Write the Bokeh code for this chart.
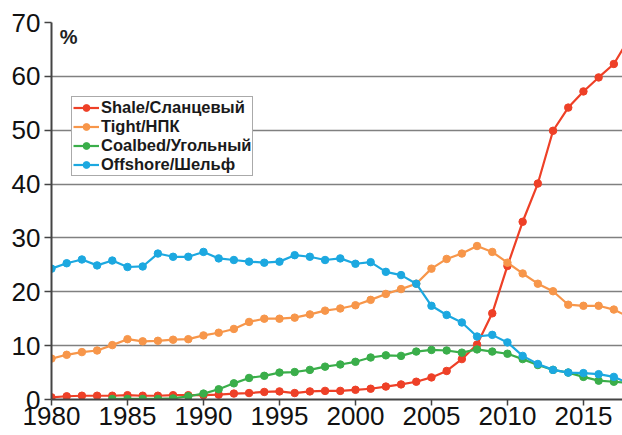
from bokeh.plotting import figure
from bokeh.models import Range1d, FixedTicker, Label, Legend, LegendItem
from bokeh.embed import file_html
from bokeh.resources import INLINE

years = list(range(1980, 2019))
coal_years = list(range(1984, 2019))

shale = [0.4, 0.6, 0.7, 0.7, 0.7, 0.8, 0.7, 0.7, 0.8, 0.8,
         0.8, 0.9, 1.1, 1.2, 1.4, 1.5, 1.2, 1.5, 1.6, 1.6,
         1.8, 2.0, 2.4, 2.8, 3.3, 4.1, 5.3, 7.5, 10.2, 16.0,
         24.8, 33.0, 40.1, 49.9, 54.2, 57.2, 59.8, 62.3, 67.0]
tight = [7.6, 8.3, 8.8, 9.1, 10.1, 11.2, 10.8, 10.9, 11.1, 11.2,
         11.9, 12.4, 13.1, 14.4, 15.0, 15.0, 15.2, 15.8, 16.5, 16.9,
         17.5, 18.5, 19.6, 20.5, 21.5, 24.3, 26.1, 27.1, 28.5, 27.4,
         25.4, 23.4, 21.5, 20.1, 17.6, 17.4, 17.4, 16.7, 15.3]
coalbed = [0.1, 0.1, 0.1, 0.1, 0.2, 0.6,
           1.1, 1.9, 3.0, 4.0, 4.4, 5.0, 5.1, 5.5, 6.1, 6.5,
           7.0, 7.8, 8.2, 8.1, 8.9, 9.2, 9.1, 8.7, 9.3, 8.9,
           8.5, 7.5, 6.4, 5.5, 5.0, 4.2, 3.5, 3.3, 3.1]
offshore = [24.3, 25.3, 26.0, 24.9, 25.8, 24.6, 24.7, 27.1, 26.5, 26.5,
            27.4, 26.2, 25.9, 25.6, 25.4, 25.6, 26.8, 26.5, 25.9, 26.2,
            25.2, 25.5, 23.7, 23.1, 21.5, 17.4, 15.7, 14.3, 11.7, 12.0,
            10.6, 8.1, 6.6, 5.5, 5.0, 4.9, 4.7, 4.2, 3.0]

labels = ["Shale/Сланцевый", "Tight/НПК", "Coalbed/Угольный", "Offshore/Шельф"]
colors = ["#ee4027", "#f7964a", "#3aae4a", "#1ca8e0"]
x_ticks = [1980, 1985, 1990, 1995, 2000, 2005, 2010, 2015]
y_ticks = [0, 10, 20, 30, 40, 50, 60, 70]

FONT = "Liberation Sans"

p = figure(width=622, height=435, output_backend="svg", toolbar_location=None,
           x_range=Range1d(1980, 2017.57), y_range=Range1d(0, 70))
p.min_border_left = 51
p.min_border_right = 0
p.min_border_top = 22
p.min_border_bottom = 36
p.outline_line_color = None
p.background_fill_color = "white"
p.border_fill_color = "white"

p.xgrid.grid_line_color = None
p.ygrid.grid_line_color = "#808080"
p.ygrid.grid_line_width = 1.6

p.xaxis.ticker = FixedTicker(ticks=x_ticks)
p.yaxis.ticker = FixedTicker(ticks=y_ticks)
for ax in (p.xaxis, p.yaxis):
    ax.axis_line_color = "#444444"
    ax.axis_line_width = 2
    ax.major_tick_line_color = "#444444"
    ax.major_tick_line_width = 1.5
    ax.major_tick_in = 0
    ax.minor_tick_line_color = None
    ax.major_label_text_font = FONT
    ax.major_label_text_font_size = "26px"
    ax.major_label_text_color = "#111111"
p.xaxis.major_tick_out = 6
p.yaxis.major_tick_out = 7
p.xaxis.major_label_standoff = 1
p.yaxis.major_label_standoff = 4

series = [(years, shale), (years, tight), (coal_years, coalbed), (years, offshore)]
items = []
for (xs, ys), lab, col in zip(series, labels, colors):
    r1 = p.line(xs, ys, line_color=col, line_width=2.2)
    r2 = p.scatter(xs, ys, marker="circle", size=7.5, fill_color=col, line_color=col)
    items.append(LegendItem(label=lab, renderers=[r1, r2]))

legend = Legend(items=items, location=(20, 223))
legend.label_text_font = FONT
legend.label_text_font_style = "bold"
legend.label_text_font_size = "16.5px"
legend.label_text_color = "#1a1a1a"
legend.label_height = 17
legend.label_standoff = 2
legend.glyph_width = 26
legend.glyph_height = 17
legend.spacing = 0
legend.padding = 1
legend.margin = 0
legend.border_line_color = "#555555"
legend.border_line_width = 1
legend.background_fill_alpha = 1.0
p.add_layout(legend)

p.add_layout(Label(x=1980.55, y=69.3, text="%", text_font=FONT, text_font_style="bold",
                   text_font_size="20px", text_color="#222222", text_baseline="top"))

open("out.html", "w").write(file_html(p, INLINE))
